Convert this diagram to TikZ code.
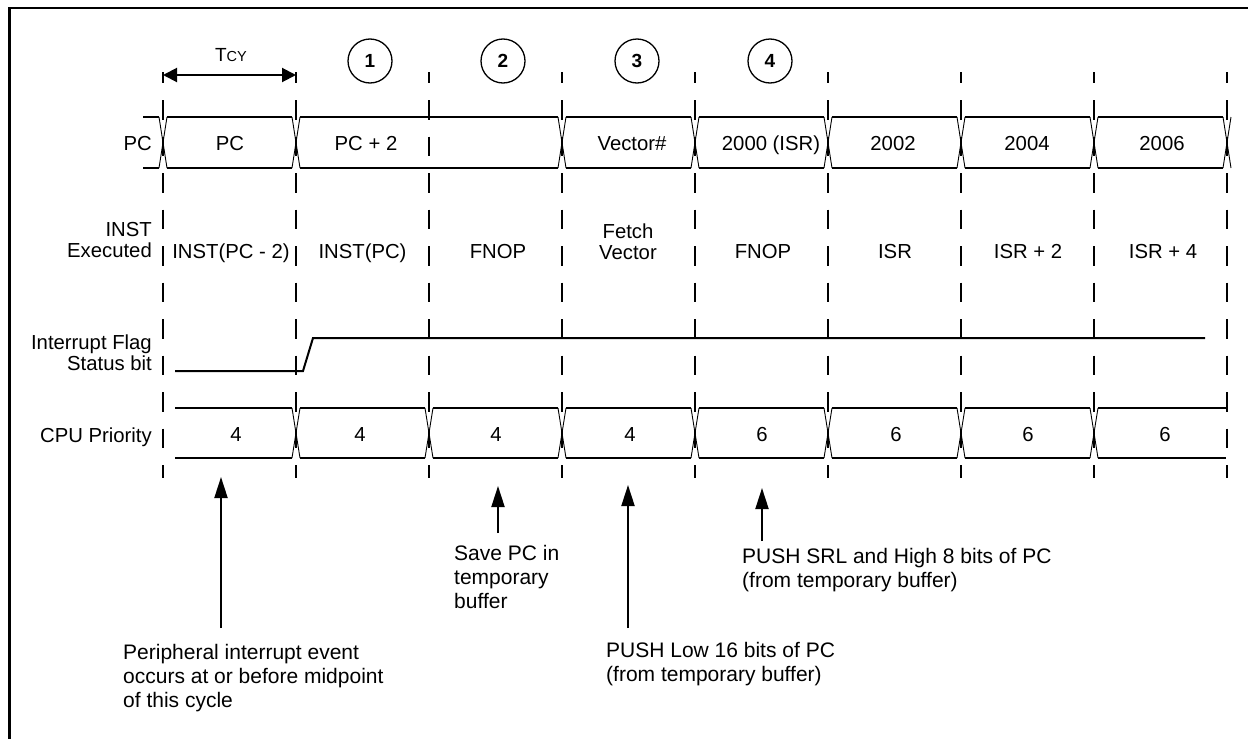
\documentclass[tikz,border=0pt]{standalone}
\usepackage{fontspec}
\setmainfont{Liberation Sans}
\usetikzlibrary{arrows.meta}
\begin{document}
\begin{tikzpicture}[x=1pt,y=-1pt,
  lbl/.style={inner sep=0pt,font=\fontsize{20.3}{21}\selectfont},
  cell/.style={lbl,anchor=base},
  ann/.style={inner sep=0pt,align=left,anchor=north west,font=\fontsize{21}{24}\selectfont},
  bus/.style={line width=2pt,line cap=butt},
  xing/.style={line width=0.9pt},
  cycline/.style={line width=2pt,dash pattern=on 19.5pt off 17pt,dash phase=8.5pt},
  num/.style={circle,draw,line width=1.3pt,minimum size=44pt,inner sep=0pt,font=\fontsize{19}{19}\bfseries\selectfont},
  ptr/.style={line width=2pt,-{Triangle[length=21pt,width=13pt]}},
  dimarrow/.style={line width=2pt,{Triangle[length=14pt,width=14pt]}-{Triangle[length=14pt,width=14pt]}}
]
\useasboundingbox (0,0) rectangle (1248,739);

% frame
\draw[line width=2.5pt,line join=miter] (9.5,739) -- (9.5,8) -- (1248,8);

% cycle boundaries
\foreach \i in {0,...,8} {
  \coordinate (b\i top) at ({163+133*\i},72);
  \coordinate (b\i bot) at ({163+133*\i},478);
  \draw[cycline] (b\i top) -- (b\i bot);
}

% TCY
\node[inner sep=0pt,anchor=base,font=\fontsize{19}{19}\selectfont] (tcy) at (231,61) {T{\fontsize{14.5}{14.5}\selectfont CY}};
\coordinate (tcyL) at (163,75);
\coordinate (tcyR) at (296,75);
\draw[dimarrow] (tcyL) -- (tcyR);

% circled numbers
\node[num] (n1) at (370,61) {1};
\node[num] (n2) at (503,61) {2};
\node[num] (n3) at (637,61) {3};
\node[num] (n4) at (770,61) {4};

% PC bus
\draw[bus] (143,117) -- (159,117);
\draw[bus] (143,168) -- (159,168);
\foreach \a/\b in {163/296,296/562,562/695,695/828,828/961,961/1094,1094/1227} {
  \draw[bus] ({\a+4},117) -- ({\b-4},117);
  \draw[bus] ({\a+4},168) -- ({\b-4},168);
}
\foreach \x in {163,296,562,695,828,961,1094,1227} {
  \draw[xing] ({\x-4},117) -- ({\x+4},168);
  \draw[xing] ({\x-4},168) -- ({\x+4},117);
}

% CPU priority bus
\foreach \a/\b in {171/296,296/429,429/562,562/695,695/828,828/961,961/1094,1094/1230} {
  \draw[bus] ({\a+4},408) -- ({\b-4},408);
  \draw[bus] ({\a+4},458) -- ({\b-4},458);
}
\foreach \x in {296,429,562,695,828,961,1094} {
  \draw[xing] ({\x-4},408) -- ({\x+4},458);
  \draw[xing] ({\x-4},458) -- ({\x+4},408);
}

% interrupt flag
\draw[bus,line join=miter] (175,371) -- (303,371) -- (313,338) -- (1205,338);

% row labels
\node[lbl,anchor=base east] (pcL) at (152,150) {PC};
\node[lbl,anchor=north east,align=right] (instL) at (152,222.5) {INST\\Executed};
\node[lbl,anchor=north east,align=right] (flagL) at (152,334.5) {Interrupt Flag\\Status bit};
\node[lbl,anchor=base east] (cpuL) at (152,442) {CPU Priority};

% PC values
\node[cell] (pc0) at (230,150) {PC};
\node[cell] (pc1) at (366,150) {PC + 2};
\node[cell] (pc3) at (632,150) {Vector\#};
\node[cell] (pc4) at (771,150) {2000 (ISR)};
\node[cell] (pc5) at (893,150) {2002};
\node[cell] (pc6) at (1027,150) {2004};
\node[cell] (pc7) at (1162,150) {2006};

% instructions
\node[cell] (in0) at (231,258) {INST(PC - 2)};
\node[cell] (in1) at (362.5,258) {INST(PC)};
\node[cell] (in2) at (498,258) {FNOP};
\node[lbl,anchor=north,align=center] (in3) at (628,223.5) {Fetch\\Vector};
\node[cell] (in4) at (763,258) {FNOP};
\node[cell] (in5) at (895,258) {ISR};
\node[cell] (in6) at (1028,258) {ISR + 2};
\node[cell] (in7) at (1163,258) {ISR + 4};

% priorities
\node[cell] (pr0) at (236,441) {4};
\node[cell] (pr1) at (360,441) {4};
\node[cell] (pr2) at (496,441) {4};
\node[cell] (pr3) at (630,441) {4};
\node[cell] (pr4) at (762,441) {6};
\node[cell] (pr5) at (896,441) {6};
\node[cell] (pr6) at (1028,441) {6};
\node[cell] (pr7) at (1165,441) {6};

% annotations
\node[ann] (a1) at (123,644) {Peripheral interrupt event\\occurs at or before midpoint\\of this cycle};
\node[ann] (a2) at (454,545) {Save PC in\\temporary\\buffer};
\node[ann] (a3) at (606,642) {PUSH Low 16 bits of PC\\(from temporary buffer)};
\node[ann] (a4) at (742,548) {PUSH SRL and High 8 bits of PC\\(from temporary buffer)};

\coordinate (s1) at (221,628); \coordinate (t1) at (221,477);
\coordinate (s2) at (498,533); \coordinate (t2) at (498,486);
\coordinate (s3) at (628,628); \coordinate (t3) at (628,485);
\coordinate (s4) at (762,541); \coordinate (t4) at (762,488);
\draw[ptr] (s1) -- (t1);
\draw[ptr] (s2) -- (t2);
\draw[ptr] (s3) -- (t3);
\draw[ptr] (s4) -- (t4);
\end{tikzpicture}
\end{document}
